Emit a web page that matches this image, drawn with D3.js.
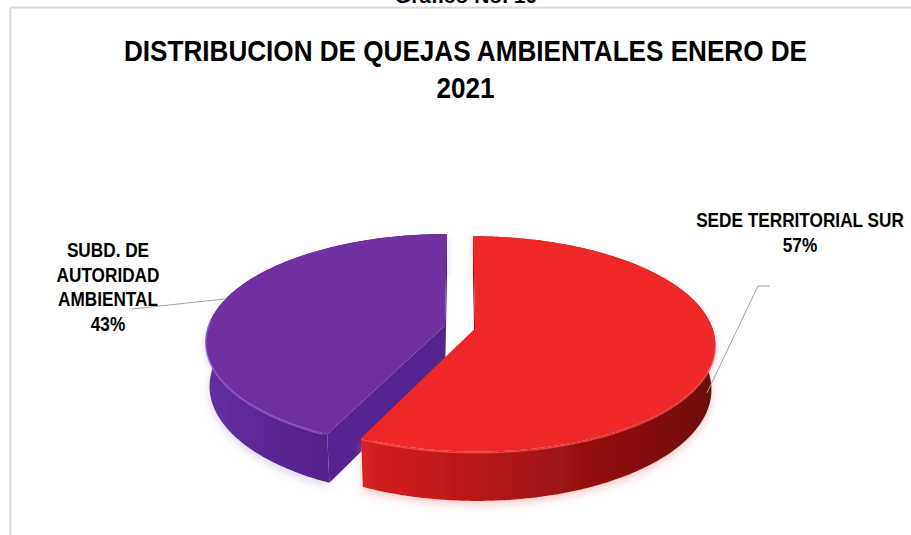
<!DOCTYPE html>
<html>
<head>
<meta charset="utf-8">
<script src="https://cdn.jsdelivr.net/npm/d3@7/dist/d3.min.js"></script>
<style>
  body { margin: 0; background: #fff; }
  text { font-family: "Liberation Sans", Arial, sans-serif; font-weight: bold; fill: #000; }
</style>
</head>
<body>
<script>
(function(){

	// data
	var categories = ["SEDE TERRITORIAL SUR", "SUBD. DE AUTORIDAD AMBIENTAL"];
	var values = [57, 43];
	var pctLabels = ["57%", "43%"];
	var labelLines = [["SEDE TERRITORIAL SUR"], ["SUBD. DE", "AUTORIDAD", "AMBIENTAL"]];
	var titleLines = ["DISTRIBUCION DE QUEJAS AMBIENTALES ENERO DE", "2021"];
	var caption = "Gráfico No. 10";

	const SVG_WIDTH = 911;
	const SVG_HEIGHT = 535;
	const CX = 460, CY = 327;      // projected centre of the pie
	const R = 237;                 // radius
	const DEPTH = 50;              // thickness
	const PHI = 26.3 * Math.PI / 180;
	const DIST = 7 * R * Math.cos(PHI);
	const EXPLODE = 15.4;

	var topColors = ["#EE2828", "#7030A0"];
	var cutColors = ["#9c1010", "#532490"];
	var rimColors = ["#ff5050", "#9a60d6"];
	var shadowColors = ["#f08a8a", "#b79ddf"];

	var svg = d3.select("body").append("svg")
		.attr("width", SVG_WIDTH).attr("height", SVG_HEIGHT);
	var defs = svg.append("defs");

	// side gradients
	var sideGrads = [
		{id: "sideRed", x1: 355, x2: 720, stops: ["#d82121", "#b81717", "#921010", "#6c0a0a"]},
		{id: "sidePurple", x1: 205, x2: 365, stops: ["#6430a0", "#5c2896", "#54238c", "#4a1e80"]}
	];
	sideGrads.forEach(function(g){
		var lg = defs.append("linearGradient").attr("id", g.id)
			.attr("gradientUnits", "userSpaceOnUse")
			.attr("x1", g.x1).attr("x2", g.x2).attr("y1", 0).attr("y2", 0);
		g.stops.forEach(function(c, i){
			lg.append("stop").attr("offset", i / (g.stops.length - 1)).attr("stop-color", c);
		});
	});
	shadowColors.forEach(function(c, i){
		defs.append("filter").attr("id", "shadow" + i)
			.attr("x", "-20%").attr("y", "-20%").attr("width", "140%").attr("height", "150%")
			.append("feDropShadow").attr("dx", 0).attr("dy", 4).attr("stdDeviation", 4)
			.attr("flood-color", c).attr("flood-opacity", 0.45);
	});

	// simple perspective projection of a point on the pie
	function project(x, y, z){
		var d = DIST - (y * Math.sin(PHI) + z * Math.cos(PHI));
		var s = DIST / d;
		var v = y * Math.cos(PHI) - z * Math.sin(PHI);
		return [CX + x * s, CY - v * s];
	}
	function offset(sl){
		var mid = (sl.startAngle + sl.endAngle) / 2;
		return {x: EXPLODE * Math.sin(mid), z: -EXPLODE * Math.cos(mid)};
	}
	function rimPoint(sl, t, y){
		var o = offset(sl);
		return project(o.x + R * Math.sin(t), y, o.z - R * Math.cos(t));
	}
	function centerPoint(sl, y){
		var o = offset(sl);
		return project(o.x, y, o.z);
	}
	function arcPoints(sl, a0, a1, y){
		var n = Math.max(2, Math.ceil((a1 - a0) / 0.01));
		return d3.range(n + 1).map(function(i){ return rimPoint(sl, a0 + (a1 - a0) * i / n, y); });
	}
	function area(pts){
		var s = 0;
		pts.forEach(function(p, i){
			var q = pts[(i + 1) % pts.length];
			s += p[0] * q[1] - q[0] * p[1];
		});
		return s / 2;
	}

	var closed = d3.line().curve(d3.curveLinearClosed);
	var open = d3.line();

	var slices = d3.pie().sort(null).value(function(d){ return d; })(values);

	var pieG = svg.append("g");
	// purple first, red in front
	[1, 0].forEach(function(i){
		var sl = slices[i];
		var g = pieG.append("g").attr("class", "slice");

		var side = arcPoints(sl, sl.startAngle, sl.endAngle, 0)
			.concat(arcPoints(sl, sl.startAngle, sl.endAngle, -DEPTH).reverse());
		g.append("path").attr("d", closed(side))
			.attr("fill", "url(#" + sideGrads[i].id + ")")
			.attr("filter", "url(#shadow" + i + ")");

		// cut faces, only the ones turned to the viewer
		var startFace = [centerPoint(sl, 0), rimPoint(sl, sl.startAngle, 0),
			rimPoint(sl, sl.startAngle, -DEPTH), centerPoint(sl, -DEPTH)];
		var endFace = [centerPoint(sl, 0), centerPoint(sl, -DEPTH),
			rimPoint(sl, sl.endAngle, -DEPTH), rimPoint(sl, sl.endAngle, 0)];
		[startFace, endFace].forEach(function(f){
			if (area(f) < -50) {
				g.append("path").attr("d", closed(f)).attr("fill", cutColors[i]);
			}
		});

		var top = [centerPoint(sl, 0)].concat(arcPoints(sl, sl.startAngle, sl.endAngle, 0));
		g.append("path").attr("d", closed(top)).attr("fill", topColors[i]);

		// light rim along the front edge
		var a0 = Math.max(sl.startAngle, Math.PI * 0.55);
		var a1 = Math.min(sl.endAngle, Math.PI * 1.52);
		if (a1 > a0) {
			g.append("path").attr("d", open(arcPoints(sl, a0 + 0.02, a1, -1.2)))
				.attr("fill", "none").attr("stroke", rimColors[i])
				.attr("stroke-width", 1.6).attr("stroke-opacity", 0.75);
		}
	});

	// frame
	svg.append("line").attr("x1", 10.5).attr("x2", SVG_WIDTH).attr("y1", 7.5).attr("y2", 7.5)
		.attr("stroke", "#d9d9d9").attr("stroke-width", 2);
	svg.append("line").attr("x1", 10.5).attr("x2", 10.5).attr("y1", 7.5).attr("y2", SVG_HEIGHT)
		.attr("stroke", "#d9d9d9").attr("stroke-width", 2);

	function narrow(sel, factor){
		sel.each(function(){
			var w = this.getComputedTextLength();
			d3.select(this).attr("textLength", w * factor).attr("lengthAdjust", "spacingAndGlyphs");
		});
		return sel;
	}

	svg.append("text").attr("x", 466).attr("y", 3).attr("text-anchor", "middle")
		.style("font-size", "21px").text(caption);

	titleLines.forEach(function(t, i){
		narrow(svg.append("text").attr("x", 465.5).attr("y", 61 + i * 37)
			.attr("text-anchor", "middle").style("font-size", "30px").text(t), 0.87);
	});

	// leader lines
	var redAnchor = rimPoint(slices[0], 1.95, -DEPTH / 2);
	svg.append("path").attr("d", open([[770, 286], [758, 286], redAnchor]))
		.attr("fill", "none").attr("stroke", "#a0a0a0").attr("stroke-width", 1);
	var purpleAnchor = rimPoint(slices[1], 4.98, 0);
	svg.append("path").attr("d", open([[132, 309], purpleAnchor]))
		.attr("fill", "none").attr("stroke", "#a0a0a0").attr("stroke-width", 1);

	// data labels
	var labelPos = [{x: 800, y: 227}, {x: 108, y: 257}];
	slices.forEach(function(sl, i){
		var lines = labelLines[i].concat([pctLabels[i]]);
		lines.forEach(function(t, j){
			narrow(svg.append("text").attr("x", labelPos[i].x).attr("y", labelPos[i].y + j * 24.5)
				.attr("text-anchor", "middle").style("font-size", "20px").text(t), 0.86);
		});
	});

})();
</script>
</body>
</html>
